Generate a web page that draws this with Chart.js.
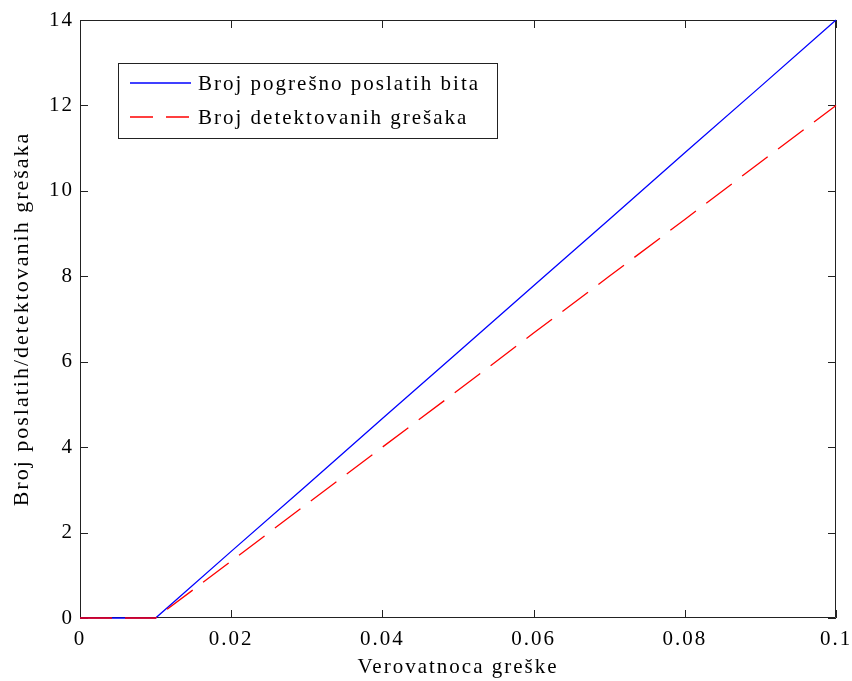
<!DOCTYPE html>
<html lang="sr">
<head>
    <meta charset="UTF-8">
    <title>Verovatnoca greške</title>
    <script src="https://cdn.jsdelivr.net/npm/chart.js@4.4.0/dist/chart.umd.min.js"></script>
    <style>
        html, body { margin: 0; padding: 0; background: #fff; }
        #wrap { width: 852px; height: 681px; }
    </style>
</head>
<body>
    <div id="wrap"><canvas id="line-chart" width="852" height="681"></canvas></div>
    <script>
        // values
        const errorProb = [0, 0.01, 0.02, 0.03, 0.04, 0.05, 0.06, 0.07, 0.08, 0.09, 0.1];
        const sentBits = [0, 0, 1.56, 3.11, 4.67, 6.22, 7.78, 9.33, 10.89, 12.44, 14];
        const detectedErrors = [0, 0, 1.33, 2.67, 4.0, 5.33, 6.67, 8.0, 9.33, 10.67, 12];
        const xTickLabels = ['0', '0.02', '0.04', '0.06', '0.08', '0.1'];
        const yTickLabels = ['0', '2', '4', '6', '8', '10', '12', '14'];

        const serif = "'Liberation Serif', 'Times New Roman', serif";
        const axisColor = '#222';
        const blue = '#0000ff';
        const red = '#ff0000';

        // the original text is rendered rather wide, so space the letters a bit
        const wideText = {
            id: 'wideText',
            beforeUpdate: chart => { chart.ctx.letterSpacing = '2px'; },
            beforeDraw: chart => { chart.ctx.letterSpacing = '2px'; }
        };

        // MATLAB style box with inward ticks on all four sides
        const boxTicks = {
            id: 'boxTicks',
            beforeDatasetsDraw: chart => {
                const ctx = chart.ctx;
                const a = chart.chartArea;
                const xs = chart.scales.x, ys = chart.scales.y;
                const len = 8;
                ctx.save();
                ctx.strokeStyle = axisColor;
                ctx.lineWidth = 1;
                ctx.beginPath();
                ctx.rect(a.left + 0.5, a.top + 0.5, a.right - a.left - 1, a.bottom - a.top - 1);
                xs.ticks.forEach(t => {
                    const px = Math.round(xs.getPixelForValue(t.value)) + 0.5;
                    ctx.moveTo(px, a.bottom); ctx.lineTo(px, a.bottom - len);
                    ctx.moveTo(px, a.top); ctx.lineTo(px, a.top + len);
                });
                ys.ticks.forEach(t => {
                    const py = Math.round(ys.getPixelForValue(t.value)) + 0.5;
                    ctx.moveTo(a.left, py); ctx.lineTo(a.left + len, py);
                    ctx.moveTo(a.right, py); ctx.lineTo(a.right - len, py);
                });
                ctx.stroke();
                ctx.restore();
            }
        };

        // legend box inside the plot, top left
        const innerLegend = {
            id: 'innerLegend',
            afterDraw: chart => {
                const ctx = chart.ctx;
                const bx = 118, by = 63, bw = 379, bh = 75;
                const styles = [{ color: blue, dash: [] }, { color: red, dash: [23, 13] }];
                ctx.save();
                ctx.fillStyle = '#fff';
                ctx.fillRect(bx, by, bw, bh);
                ctx.strokeStyle = axisColor;
                ctx.lineWidth = 1;
                ctx.strokeRect(bx + 0.5, by + 0.5, bw, bh);
                ctx.font = '21px ' + serif;
                ctx.textBaseline = 'middle';
                chart.data.datasets.forEach((ds, i) => {
                    const y = by + 20 + i * 34;
                    ctx.beginPath();
                    ctx.lineWidth = 1.6;
                    ctx.strokeStyle = styles[i].color;
                    ctx.setLineDash(styles[i].dash);
                    ctx.moveTo(130, y);
                    ctx.lineTo(191, y);
                    ctx.stroke();
                    ctx.setLineDash([]);
                    ctx.fillStyle = '#000';
                    ctx.fillText(ds.label, 198, y + 1);
                });
                ctx.restore();
            }
        };

        const ctx = document.getElementById('line-chart').getContext('2d');
        const myChart = new Chart(ctx, {
            type: 'line',
            data: {
                datasets: [{
                    label: 'Broj pogrešno poslatih bita',
                    data: errorProb.map((x, i) => ({ x: x, y: sentBits[i] })),
                    borderColor: blue,
                    borderWidth: 1.3,
                    pointRadius: 0,
                    clip: 4,
                    order: 1
                }, {
                    label: 'Broj detektovanih grešaka',
                    data: errorProb.map((x, i) => ({ x: x, y: detectedErrors[i] })),
                    borderColor: red,
                    borderWidth: 1.3,
                    borderDash: [32, 13],
                    pointRadius: 0,
                    clip: 4,
                    order: 0
                }]
            },
            options: {
                responsive: false,
                animation: false,
                events: [],
                layout: { padding: { left: 0, right: 16, top: 20, bottom: 0 } },
                plugins: {
                    legend: { display: false },
                    tooltip: { enabled: false }
                },
                scales: {
                    x: {
                        type: 'linear',
                        min: 0,
                        max: 0.1,
                        afterBuildTicks: s => {
                            s.ticks = xTickLabels.map(v => ({ value: parseFloat(v) }));
                        },
                        afterFit: s => {
                            s.height = 63;
                            s.paddingLeft = 0;
                            s.paddingRight = 0;
                        },
                        grid: { display: false, drawTicks: false },
                        border: { display: false },
                        ticks: {
                            padding: 9,
                            maxRotation: 0,
                            color: '#000',
                            font: { family: serif, size: 21 },
                            callback: (v, i) => xTickLabels[i]
                        },
                        title: {
                            display: true,
                            text: 'Verovatnoca greške',
                            color: '#000',
                            font: { family: serif, size: 21 },
                            padding: { top: 0, bottom: 1 }
                        }
                    },
                    y: {
                        min: 0,
                        max: 14,
                        afterBuildTicks: s => {
                            s.ticks = yTickLabels.map(v => ({ value: parseFloat(v) }));
                        },
                        afterFit: s => {
                            s.width = 80;
                            s.paddingTop = 0;
                            s.paddingBottom = 0;
                        },
                        grid: { display: false, drawTicks: false },
                        border: { display: false },
                        ticks: {
                            padding: 6,
                            color: '#000',
                            font: { family: serif, size: 21 },
                            callback: (v, i) => yTickLabels[i]
                        },
                        title: {
                            display: true,
                            text: 'Broj poslatih/detektovanih grešaka',
                            color: '#000',
                            font: { family: serif, size: 22 },
                            padding: { top: 9, bottom: 0 }
                        }
                    }
                }
            },
            plugins: [wideText, boxTicks, innerLegend]
        });
    </script>
</body>
</html>
